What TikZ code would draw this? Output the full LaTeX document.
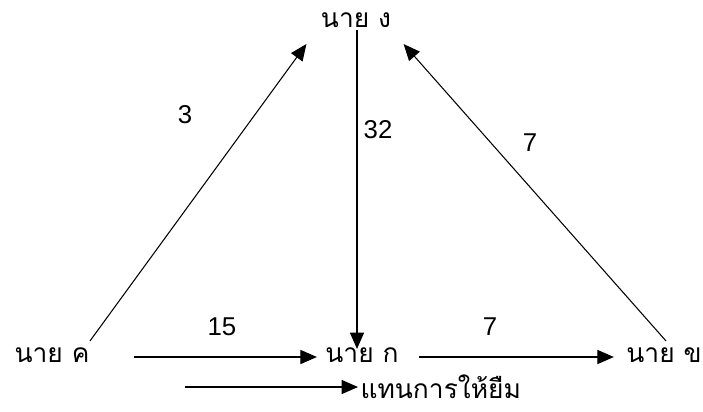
\documentclass[tikz,border=0pt]{standalone}
\usepackage{fontspec}
\setmainfont{Liberation Sans}
\newfontfamily\thaifont[Script=Thai]{Loma}
\usetikzlibrary{arrows.meta,positioning,calc}

\tikzset{
    person/.style={font=\thaifont\fontsize{22.5}{26}\selectfont, inner sep=2pt},
    amount/.style={font=\fontsize{22}{26}\selectfont, inner sep=1pt},
    lend/.style={draw, line width=0.9pt, -{Triangle[length=14pt, width=12pt]}}
}

\begin{document}
\begin{tikzpicture}[x=0.03cm, y=-0.03cm]
    \useasboundingbox (0,0) rectangle (703,411);
    % people
    \node[person] (ngo)   at (356, 20)  {นาย ง};
    \node[person] (khwai) at (52, 355)  {นาย ค};
    \node[person] (kai)   at (362, 355) {นาย ก};
    \node[person] (khai)  at (664, 355) {นาย ข};
    % loans
    \draw[lend] ($(khwai.north east)+(-2,-4)$) -- ($(ngo.south west)+(-12,14)$);
    \draw[lend] ($(khai.north)+(2,-4)$) -- ($(ngo.south east)+(10,14)$);
    \draw[lend] (ngo.south -| 357,0) -- ($(kai.north -| 357,0)+(0,4)$);
    \draw[lend] ($(khwai.east)+(42,2)$) -- ($(kai.west)+(-6,2)$);
    \draw[lend] ($(kai.east)+(18,2)$) -- ($(khai.west)+(-10,2)$);
    \node[amount] at (185, 115) {3};
    \node[amount] at (378, 130) {32};
    \node[amount] at (530, 143) {7};
    \node[amount] at (222, 327) {15};
    \node[amount] at (490, 327) {7};
    % legend
    \node[person, anchor=west] (meaning) at (358, 387) {แทนการให้ยืม};
    \coordinate (legstart) at (185, 387);
    \draw[lend] (legstart) -- (meaning.west);
\end{tikzpicture}
\end{document}
